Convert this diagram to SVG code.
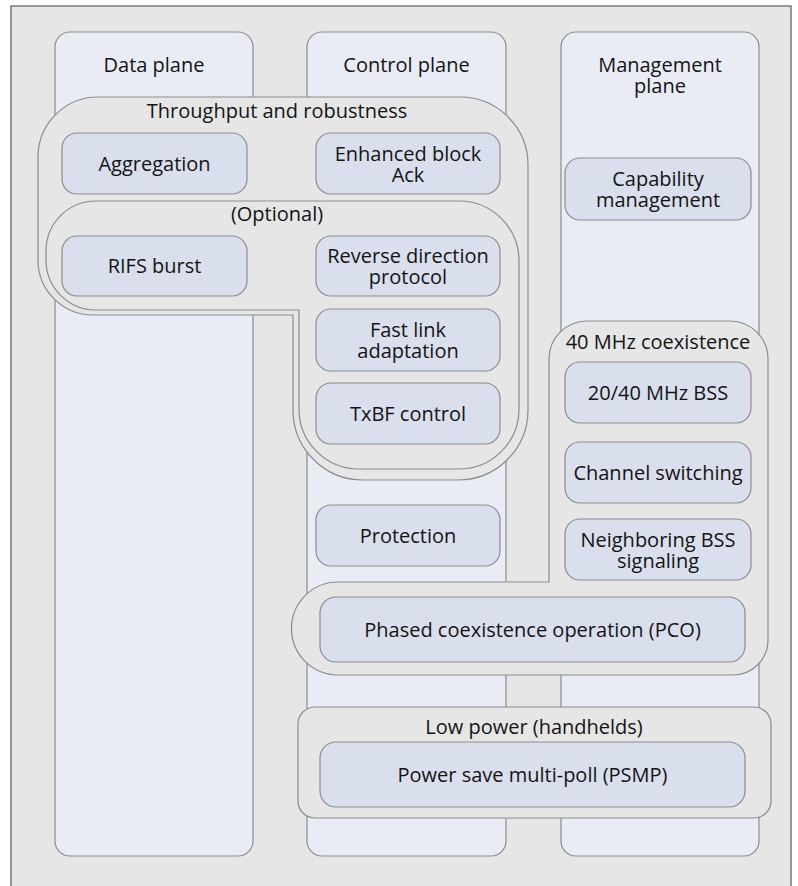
<svg xmlns="http://www.w3.org/2000/svg" width="798" height="886" viewBox="0 0 798 886">
<style>
.frame{fill:#e6e6e6;stroke:#5a5a5a;stroke-width:1.2}
.plane{fill:#e9ecf5;stroke:#8c8c8c;stroke-width:1.2}
.grp{fill:#e6e6e6;stroke:#8c8c8c;stroke-width:1.2}
.node{fill:#d9dfec;stroke:#8c8c8c;stroke-width:1.2}
text{font-family:"Open Sans","Noto Sans","Liberation Sans",sans-serif;font-size:20px;fill:#141414;text-anchor:middle}
</style>
<rect width="798" height="886" fill="#ffffff"/>
<rect class="frame" x="11" y="6" width="780" height="900"/>

<g id="data-plane">
<rect class="plane" x="55" y="32" width="198" height="824" rx="15"/>
<text x="154" y="72">Data plane</text>
</g>
<g id="control-plane">
<rect class="plane" x="307" y="32" width="199" height="824" rx="15"/>
<text x="406.5" y="72">Control plane</text>
</g>
<g id="management-plane">
<rect class="plane" x="561" y="32" width="198" height="824" rx="15"/>
<text x="660" y="72">Management<tspan x="660" dy="21">plane</tspan></text>
</g>

<g id="throughput-group">
<path class="grp" d="M98,97 H460 A68,68 0 0 1 528,165 V410 A70,70 0 0 1 458,480 H363 A70,70 0 0 1 293,410 V315 H93 A55,55 0 0 1 38,260 V157 A60,60 0 0 1 98,97 Z"/>
<text x="277" y="118">Throughput and robustness</text>
</g>
<g id="optional-group">
<path class="grp" d="M96,201 H459 A60,60 0 0 1 519,261 V409 A60,60 0 0 1 459,469 H359 A60,60 0 0 1 299,409 V310 H96 A50,50 0 0 1 46,260 V251 A50,50 0 0 1 96,201 Z"/>
<text x="277" y="221">(Optional)</text>
</g>
<g id="coexistence-group">
<path class="grp" d="M587,321 H730 A38,38 0 0 1 768,359 V640 A35,35 0 0 1 733,675 H338 A46.5,46.5 0 0 1 338,582 H549 V359 A38,38 0 0 1 587,321 Z"/>
<text x="658" y="349">40 MHz coexistence</text>
</g>
<g id="low-power-group">
<rect class="grp" x="298" y="707" width="473" height="111" rx="17"/>
<text x="534" y="734">Low power (handhelds)</text>
</g>

<g id="aggregation">
<rect class="node" x="62" y="133" width="185" height="61" rx="15"/>
<text x="154.5" y="171">Aggregation</text>
</g>
<g id="enhanced-block-ack">
<rect class="node" x="316" y="133" width="184" height="61" rx="15"/>
<text x="408" y="160.5">Enhanced block<tspan x="408" dy="21">Ack</tspan></text>
</g>
<g id="rifs-burst">
<rect class="node" x="62" y="236" width="185" height="60" rx="15"/>
<text x="154.5" y="273">RIFS burst</text>
</g>
<g id="reverse-direction">
<rect class="node" x="316" y="236" width="184" height="60" rx="15"/>
<text x="408" y="262.5">Reverse direction<tspan x="408" dy="21">protocol</tspan></text>
</g>
<g id="fast-link-adaptation">
<rect class="node" x="316" y="309" width="184" height="62" rx="15"/>
<text x="408" y="336.5">Fast link<tspan x="408" dy="21">adaptation</tspan></text>
</g>
<g id="txbf-control">
<rect class="node" x="316" y="383" width="184" height="61" rx="15"/>
<text x="408" y="421">TxBF control</text>
</g>
<g id="protection">
<rect class="node" x="316" y="505" width="184" height="61" rx="15"/>
<text x="408" y="543">Protection</text>
</g>
<g id="capability-management">
<rect class="node" x="565" y="158" width="186" height="62" rx="15"/>
<text x="658" y="185.5">Capability<tspan x="658" dy="21">management</tspan></text>
</g>
<g id="bss-20-40">
<rect class="node" x="565" y="362" width="186" height="61" rx="15"/>
<text x="658" y="400">20/40 MHz BSS</text>
</g>
<g id="channel-switching">
<rect class="node" x="565" y="442" width="186" height="61" rx="15"/>
<text x="658" y="480">Channel switching</text>
</g>
<g id="neighboring-bss">
<rect class="node" x="565" y="519" width="186" height="61" rx="15"/>
<text x="658" y="546.5">Neighboring BSS<tspan x="658" dy="21">signaling</tspan></text>
</g>
<g id="pco">
<rect class="node" x="320" y="597" width="425" height="65" rx="16"/>
<text x="532.5" y="637">Phased coexistence operation (PCO)</text>
</g>
<g id="psmp">
<rect class="node" x="320" y="742" width="425" height="65" rx="16"/>
<text x="532.5" y="782">Power save multi-poll (PSMP)</text>
</g>
<g id="connectors"/>
</svg>
